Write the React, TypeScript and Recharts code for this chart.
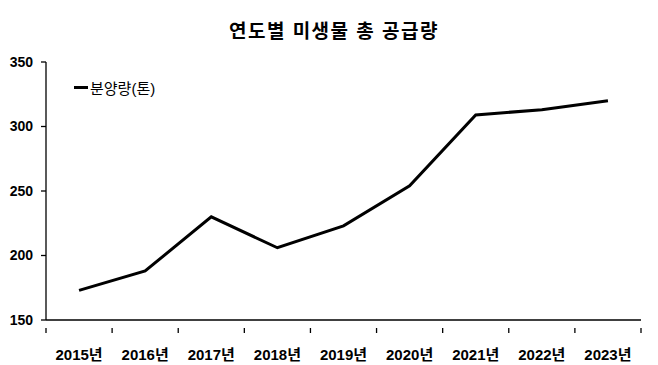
import { LineChart, Line, XAxis, YAxis } from 'recharts'

const years = ['2015년', '2016년', '2017년', '2018년', '2019년', '2020년', '2021년', '2022년', '2023년']
const supply = [173, 188, 230, 206, 223, 254, 309, 313, 320]
const yTicks = [150, 200, 250, 300, 350]
const seriesName = '분양량(톤)'

const data = years.map((year, i) => ({ x: i + 0.5, year, supply: supply[i] }))

// ticks at category edges (integers) get a mark, centers (halves) get the year label
const xTicks = Array.from({ length: years.length * 2 + 1 }, (_, i) => i / 2)

const font = "'Liberation Sans', Arial, 'Noto Sans CJK KR', sans-serif"

function YearTick(props: any) {
  const { x, y, payload } = props
  const v = payload.value as number
  if (Number.isInteger(v)) {
    return <line x1={x} y1={y} x2={x} y2={y + 5} stroke="#000" strokeWidth={1.3} />
  }
  const label = years[Math.floor(v)]
  return (
    <text x={x} y={y + 32} textAnchor="middle" fontSize={15} fontWeight="bold" fill="#000" fontFamily={font}>
      {label}
    </text>
  )
}

export default function App() {
  return (
    <div style={{ position: 'fixed', left: 0, top: 0, width: 658, height: 365, background: '#fff' }}>
      <div
        style={{
          position: 'absolute',
          left: 0,
          width: 668,
          top: 16,
          textAlign: 'center',
          fontFamily: font,
          fontSize: 19,
          fontWeight: 'bold',
          letterSpacing: 1.5,
          color: '#000',
        }}
      >
        연도별 미생물 총 공급량
      </div>
      <div
        style={{
          position: 'absolute',
          left: 74,
          top: 77,
          display: 'flex',
          alignItems: 'center',
          fontFamily: font,
          fontSize: 15,
          color: '#000',
          zIndex: 2,
        }}
      >
        <span style={{ display: 'inline-block', width: 14, height: 3, background: '#000', marginRight: 2 }} />
        <span>{seriesName}</span>
      </div>
      <LineChart width={658} height={365} data={data} margin={{ top: 62, right: 17, bottom: 0, left: 0 }}>
        <XAxis
          type="number"
          dataKey="x"
          domain={[0, years.length]}
          ticks={xTicks}
          interval={0}
          tickLine={false}
          tick={<YearTick />}
          axisLine={{ stroke: '#000', strokeWidth: 1.3 }}
          height={45}
        />
        <YAxis
          domain={[150, 350]}
          ticks={yTicks}
          interval={0}
          width={46}
          tickSize={5}
          tickMargin={8}
          tickLine={{ stroke: '#000', strokeWidth: 1.3 }}
          axisLine={{ stroke: '#000', strokeWidth: 1.3 }}
          tick={{ fontSize: 14, fontWeight: 'bold', fill: '#000', fontFamily: font }}
        />
        <Line
          type="linear"
          dataKey="supply"
          name={seriesName}
          stroke="#000"
          strokeWidth={3}
          dot={false}
          isAnimationActive={false}
        />
      </LineChart>
    </div>
  )
}
